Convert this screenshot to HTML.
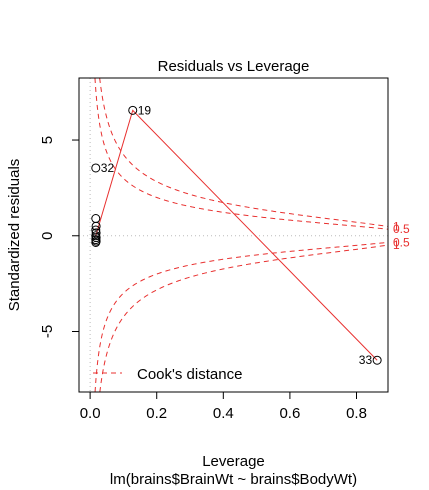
<!DOCTYPE html>
<html><head><meta charset="utf-8"><style>
html,body{margin:0;padding:0;background:#fff;overflow:hidden;width:429px;height:490px}
svg{display:block}
svg text{font-family:"Liberation Sans",Arial,sans-serif;fill:#000}
</style></head><body>
<svg width="429" height="490" xmlns="http://www.w3.org/2000/svg">
<defs><clipPath id="pc"><rect x="79" y="78" width="309" height="314"/></clipPath></defs>
<g id="plot"></g>
</svg>
<script>
const leverage = [0.017,0.017,0.018,0.017,0.018,0.017,0.018,0.017,0.018,0.017,0.128,0.862];
const residuals = [3.54,0.9,0.5,0.3,0.15,0.0,-0.1,-0.2,-0.28,-0.35,6.55,-6.5];
const labels = ["32","","","","","","","","","","19","33"];
const xTicks = [0,0.2,0.4,0.6,0.8];
const xTickLabels = ["0.0","0.2","0.4","0.6","0.8"];
const yTicks = [-5,0,5];
const cookLevels = [0.5,1];
const nParams = 2;
const smoothX = [0.017,0.128,0.862];
const smoothY = [0.0,6.55,-6.5];

const NS="http://www.w3.org/2000/svg";
const g=document.getElementById('plot');
const L=79,R=388,T=78,B=392;
const xMin=-0.0334,xMax=0.8946,yMin=-8.16,yMax=8.24;
const sx=v=>L+(v-xMin)/(xMax-xMin)*(R-L);
const sy=v=>B-(v-yMin)/(yMax-yMin)*(B-T);
const RED="#e8302f";
function el(tag,attrs,parent){const e=document.createElementNS(NS,tag);for(const k in attrs)e.setAttribute(k,attrs[k]);(parent||g).appendChild(e);return e;}
function txt(s,attrs){const e=el('text',attrs);e.textContent=s;return e;}

const clipG=el('g',{'clip-path':'url(#pc)'});


let h0=el('line',{x1:L,x2:R,y1:sy(0),y2:sy(0),stroke:'#bbb','stroke-dasharray':'1,3'},clipG);


let v0=el('line',{x1:sx(0),x2:sx(0),y1:T,y2:B,stroke:'#bbb','stroke-dasharray':'1,3'},clipG);


cookLevels.forEach(lv=>{
  [1,-1].forEach(sgn=>{
    const lim = sgn>0 ? yMax : -yMin;
    const hStart = lv*nParams/(lim*lim + lv*nParams);
    let d='';
    for(let i=0;i<=300;i++){const h=hStart+(xMax-hStart)*i/300;const y=sgn*Math.sqrt(lv*nParams*(1-h)/h);d+=(i?'L':'M')+sx(h).toFixed(2)+','+sy(y).toFixed(2);}
    const p=el('path',{d:d,fill:'none',stroke:RED,'stroke-dasharray':'5,4','stroke-width':1},clipG);
    
    
  });
});
const sm=el('polyline',{points:smoothX.map((x,i)=>sx(x)+','+sy(smoothY[i])).join(' '),fill:'none',stroke:RED,'stroke-width':1},clipG);


leverage.forEach((x,i)=>{
  const c=el('circle',{cx:sx(x),cy:sy(residuals[i]),r:4,fill:'none',stroke:'#000','stroke-width':1},clipG);
  
  
  if(labels[i]){
    const right=x<0.5;
    const t=txt(labels[i],{x:sx(x)+(right?5:-5),y:sy(residuals[i])+4,'font-size':12,'text-anchor':right?'start':'end'});
    
    
  }
});
cookLevels.forEach(lv=>{
  const h=xMax;const y=Math.sqrt(lv*nParams*(1-h)/h);
  [1,-1].forEach(sgn=>{
    const t=txt(String(lv),{x:R+5,y:sy(sgn*y)+4,'font-size':12,style:'fill:'+RED});
    
    
  });
});
const bx=el('rect',{x:L,y:T,width:R-L,height:B-T,fill:'none',stroke:'#000'});


xTicks.forEach((v,i)=>{
  const tk=el('line',{x1:sx(v),x2:sx(v),y1:B,y2:B+7,stroke:'#000'});
  
  
  const t=txt(xTickLabels[i],{x:sx(v),y:B+26,'font-size':15,'text-anchor':'middle'});
  
  
});
yTicks.forEach(v=>{
  const tk=el('line',{x1:L-7,x2:L,y1:sy(v),y2:sy(v),stroke:'#000'});
  
  
  const t=txt(String(v),{x:0,y:0,'font-size':15,'text-anchor':'middle',transform:`translate(${L-27},${sy(v)}) rotate(-90)`});
  
  
});
const lg=el('line',{x1:93,x2:122,y1:373,y2:373,stroke:RED,'stroke-dasharray':'5,4'});


const lt=txt("Cook's distance",{x:137,y:379,'font-size':15});


const tt=txt('Residuals vs Leverage',{x:233.5,y:71,'font-size':15,'text-anchor':'middle'});


const xt=txt('Leverage',{x:233.5,y:466,'font-size':15,'text-anchor':'middle'});


const st=txt('lm(brains$BrainWt ~ brains$BodyWt)',{x:233.5,y:484,'font-size':15,'text-anchor':'middle'});


const yt=txt('Standardized residuals',{x:0,y:0,'font-size':15,'text-anchor':'middle',transform:`translate(19,${(T+B)/2}) rotate(-90)`});


</script>
</body></html>
